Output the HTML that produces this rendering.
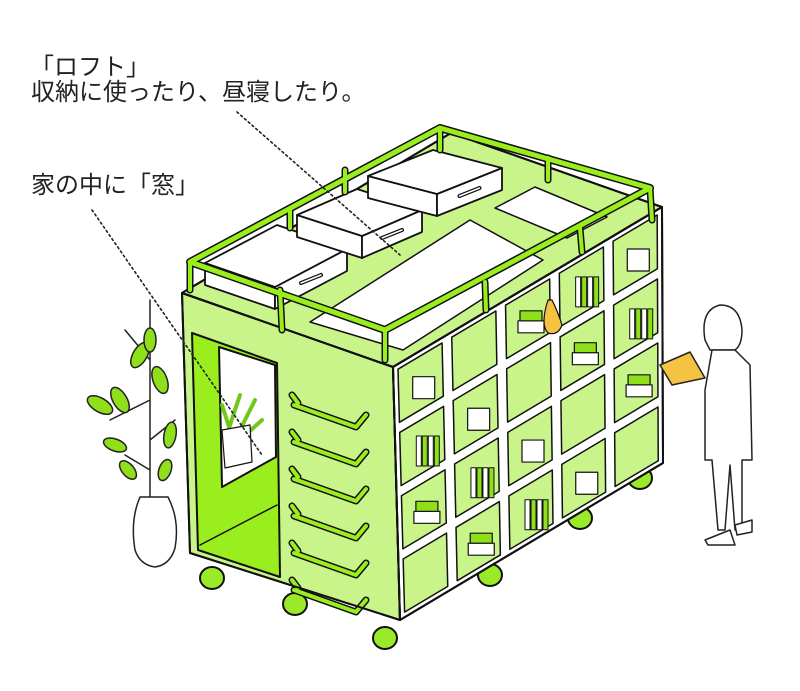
<!DOCTYPE html>
<html><head><meta charset="utf-8"><style>
html,body{margin:0;padding:0;background:#fff;}
svg{display:block}
text{font-family:"Liberation Sans","Noto Sans CJK JP",sans-serif;fill:#222}
</style></head><body>
<svg id="s" width="800" height="691" viewBox="0 0 800 691" xmlns="http://www.w3.org/2000/svg" stroke-linejoin="round" stroke-linecap="round">
<text x="30" y="75" font-size="24">「ロフト」</text>
<text x="31" y="100" font-size="24">収納に使ったり、昼寝したり。</text>
<text x="31" y="193" font-size="24">家の中に「窓」</text>

<!-- plant -->
<g stroke="#222" stroke-width="1.5">
<path d="M150 300 L150 500 M150 400 L110 420 M150 360 L125 330 M150 440 L175 420 M150 470 L125 455" fill="none"/>
<g fill="#8fe01a">
<ellipse cx="140" cy="355" rx="7" ry="14" transform="rotate(30 140 355)"/>
<ellipse cx="160" cy="380" rx="7" ry="14" transform="rotate(-20 160 380)"/>
<ellipse cx="100" cy="405" rx="7" ry="14" transform="rotate(-60 100 405)"/>
<ellipse cx="120" cy="400" rx="7" ry="14" transform="rotate(-30 120 400)"/>
<ellipse cx="170" cy="435" rx="6" ry="13" transform="rotate(10 170 435)"/>
<ellipse cx="115" cy="445" rx="6" ry="12" transform="rotate(-70 115 445)"/>
<ellipse cx="165" cy="470" rx="6" ry="11" transform="rotate(20 165 470)"/>
<ellipse cx="128" cy="470" rx="6" ry="11" transform="rotate(-40 128 470)"/>
<ellipse cx="150" cy="340" rx="6" ry="12"/>
</g>
<path d="M140 497 Q130 520 135 550 Q140 565 155 567 Q170 565 175 548 Q180 520 168 497 Z" fill="#fff"/>
</g>

<g id="box" stroke="#111" stroke-width="2"></g>

<!-- person -->
<g stroke="#222" stroke-width="1.5" fill="#fff">
<path d="M705 340 Q700 310 720 305 Q740 305 742 330 Q742 345 735 350 L710 350 Z"/>
<path d="M712 350 L735 350 L750 365 L752 460 L742 460 L742 530 L735 530 L730 465 L725 530 L718 530 L712 460 L705 460 L705 390 Z"/>
<path d="M705 540 L730 530 L735 545 L708 545 Z M735 525 L752 520 L752 532 L737 535 Z"/>
<path d="M660 365 L690 352 L705 378 L672 385 Z" fill="#f5c242"/>
</g>
</svg>
<script>
const g=document.getElementById('box');
const NS='http://www.w3.org/2000/svg';
function el(t,a){const e=document.createElementNS(NS,t);for(const k in a)e.setAttribute(k,a[k]);g.appendChild(e);return e;}
function pts(a){return a.map(p=>p.join(',')).join(' ');}
[[212,578],[295,604],[385,638],[490,575],[580,518],[640,478]].forEach(([x,y])=>{el('ellipse',{cx:x,cy:y,rx:12,ry:11,fill:'#9aea2a'});});
const TL=[182,293],FT=[393,367],FB=[400,620],LB=[190,553],TR=[662,207],BR=[663,463],BK=[451,133];
el('polygon',{points:pts([TL,BK,TR,FT]),fill:'#c9f48a'});
el('polygon',{points:pts([TL,FT,FB,LB]),fill:'#c9f48a'});
el('polygon',{points:pts([FT,TR,BR,FB]),fill:'#fff'});
el('polygon',{points:pts([[192,333],[277,363],[280,577],[198,550]]),fill:'#9bee1e'});
el('polygon',{points:pts([[219,347],[275,365],[276,457],[222,487]]),fill:'#fff'});
el('path',{d:'M200 545 L277 505',fill:'none','stroke-width':1.5});
el('path',{d:'M225 440 L240 395 M235 440 L255 400 M240 440 L262 420 M230 430 L222 405',fill:'none',stroke:'#6fc81a','stroke-width':4});
el('path',{d:'M222 430 L250 425 L252 462 L225 468 Z',fill:'#fff','stroke-width':1.2});
for(let i=0;i<6;i++){const y=395+i*37;
el('path',{d:`M298 ${y+8} L292 ${y} M294 ${y+10} L356 ${y+32} L366 ${y+20}`,fill:'none',stroke:'#111','stroke-width':7});
el('path',{d:`M298 ${y+8} L292 ${y} M294 ${y+10} L356 ${y+32} L366 ${y+20}`,fill:'none',stroke:'#9bee1e','stroke-width':4});}
function P(u,v){const a=[FT[0]+(TR[0]-FT[0])*u,FT[1]+(TR[1]-FT[1])*u],b=[FB[0]+(BR[0]-FB[0])*u,FB[1]+(BR[1]-FB[1])*u];return[a[0]+(b[0]-a[0])*v,a[1]+(b[1]-a[1])*v];}
for(let c=0;c<5;c++)for(let r=0;r<4;r++){const e=.018,f=.02;
const q=[P(c/5+e,r/4+f),P((c+1)/5-e,r/4+f),P((c+1)/5-e,(r+1)/4-f),P(c/5+e,(r+1)/4-f)];
el('polygon',{points:pts(q),fill:'#c9f48a','stroke-width':1.5});
const m=P(c/5+.1,r/4+.125);
const k=(c*3+r)%4;
if(k==0){el('rect',{x:m[0]-8,y:m[1]-6,width:22,height:22,fill:'#fff','stroke-width':1.2});}
else if(k==1){for(let j=0;j<4;j++)el('rect',{x:m[0]-6+j*6,y:m[1]-10,width:5,height:30,fill:j%2?'#8fe01a':'#fff','stroke-width':1});}
else if(k==2){el('rect',{x:m[0]-10,y:m[1]+2,width:26,height:12,fill:'#fff','stroke-width':1.2});el('rect',{x:m[0]-8,y:m[1]-8,width:22,height:10,fill:'#8fe01a','stroke-width':1.2});}
}
el('polygon',{points:pts([FT,TR,BR,FB]),fill:'none'});
el('polygon',{points:pts([TL,FT,FB,LB]),fill:'none'});
el('polygon',{points:pts([TL,BK,TR,FT]),fill:'none'});
el('path',{d:'M548 300 Q540 325 548 333 Q558 336 562 325 Q558 312 552 300 Z',fill:'#f5c242','stroke-width':1.2});
// mattress & pillow
el('polygon',{points:pts([[310,322],[470,220],[543,260],[403,350]]),fill:'#fff','stroke-width':1.5});
el('polygon',{points:pts([[495,208],[535,187],[607,217],[567,238]]),fill:'#fff','stroke-width':1.5});
// boxes as prisms
function prism(a,b,c,h){const d=[a[0]+c[0]-b[0],a[1]+c[1]-b[1]];
el('polygon',{points:pts([a,d,[d[0],d[1]+h],[a[0],a[1]+h]]),fill:'#fff','stroke-width':1.8});
el('polygon',{points:pts([d,c,[c[0],c[1]+h],[d[0],d[1]+h]]),fill:'#fff','stroke-width':1.8});
el('polygon',{points:pts([a,b,c,d]),fill:'#fff','stroke-width':1.8});
const mx=(d[0]+c[0])/2,my=(d[1]+c[1])/2+h/2;el('line',{x1:mx-10,y1:my+4,x2:mx+10,y2:my-4,'stroke-width':4});el('line',{x1:mx-10,y1:my+4,x2:mx+10,y2:my-4,stroke:'#fff','stroke-width':1.5});}
prism([205,263],[277,225],[347,249],22);
prism([297,215],[357,189],[422,210],22);
prism([368,176],[433,150],[502,168],22);
const R=[[190,262],[440,128],[650,188],[385,330]];
['#111','#9bee1e'].forEach((col,i)=>{
el('polygon',{points:pts(R),fill:'none',stroke:col,'stroke-width':i?5:8});
[[190,262,190,290],[440,128,440,150],[650,188,652,220],[385,330,385,360],[290,210,290,228],[548,158,548,180],[280,290,282,330],[485,282,486,310],[580,228,582,252],[345,170,345,192]].forEach(l=>el('line',{x1:l[0],y1:l[1],x2:l[2],y2:l[3],stroke:col,'stroke-width':i?4:7}));});
el('line',{x1:237,y1:112,x2:400,y2:255,stroke:'#222','stroke-width':1.6,'stroke-dasharray':'2 3'});
el('line',{x1:92,y1:210,x2:262,y2:455,stroke:'#222','stroke-width':1.6,'stroke-dasharray':'2 3'});
</script>
</body></html>
